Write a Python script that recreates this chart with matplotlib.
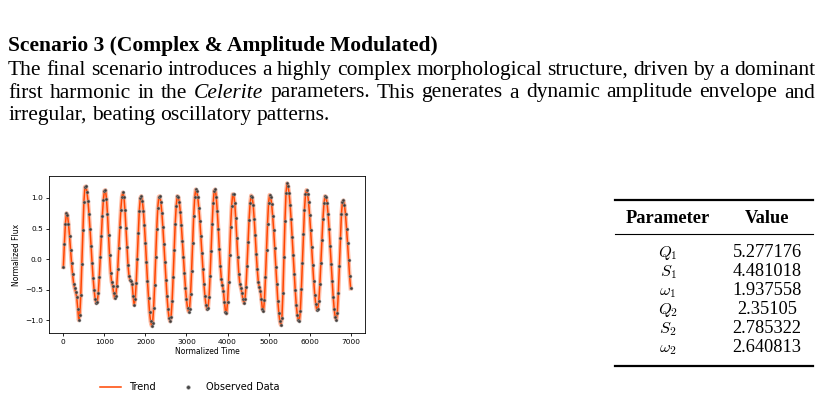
import matplotlib
matplotlib.use("Agg")
import matplotlib.pyplot as plt
import numpy as np

# flux, one value every 25 time units (0 .. 7000)
time_step = 25
flux = [
    -0.13, 0.25, 0.58, 0.75, 0.72, 0.58, 0.38, 0.15,
    -0.07, -0.25, -0.40, -0.48, -0.54, -0.62, -0.82, -1.00,
    -0.92, -0.58, -0.08, 0.47, 0.93, 1.18, 1.19, 1.10,
    0.95, 0.74, 0.49, 0.21, -0.06, -0.31, -0.51, -0.65,
    -0.72, -0.71, -0.56, -0.30, 0.04, 0.38, 0.71, 0.97,
    1.12, 1.13, 0.99, 0.74, 0.40, 0.06, -0.22, -0.37,
    -0.44, -0.55, -0.64, -0.60, -0.44, -0.16, 0.18, 0.52,
    0.81, 1.02, 1.09, 1.02, 0.81, 0.51, 0.19, -0.10,
    -0.28, -0.34, -0.36, -0.40, -0.60, -0.75, -0.66, -0.39,
    0.00, 0.43, 0.79, 1.00, 1.03, 0.95, 0.79, 0.55,
    0.27, -0.05, -0.36, -0.63, -0.87, -1.02, -1.09, -1.04,
    -0.80, -0.42, 0.04, 0.49, 0.84, 1.02, 1.03, 0.93,
    0.76, 0.52, 0.24, -0.05, -0.35, -0.61, -0.82, -0.96,
    -1.02, -0.94, -0.69, -0.30, 0.15, 0.57, 0.87, 1.03,
    1.02, 0.93, 0.77, 0.55, 0.30, 0.04, -0.23, -0.47,
    -0.66, -0.80, -0.86, -0.81, -0.57, -0.19, 0.27, 0.70,
    1.01, 1.14, 1.11, 1.01, 0.84, 0.63, 0.37, 0.10,
    -0.17, -0.41, -0.61, -0.75, -0.82, -0.80, -0.62, -0.28,
    0.14, 0.57, 0.91, 1.12, 1.14, 1.02, 0.79, 0.50,
    0.17, -0.11, -0.33, -0.42, -0.52, -0.70, -0.86, -0.89,
    -0.71, -0.38, 0.07, 0.52, 0.87, 1.06, 1.06, 0.92,
    0.67, 0.35, 0.03, -0.24, -0.40, -0.47, -0.55, -0.66,
    -0.72, -0.66, -0.45, -0.11, 0.28, 0.64, 0.91, 1.04,
    1.02, 0.89, 0.66, 0.39, 0.09, -0.17, -0.37, -0.46,
    -0.52, -0.66, -0.82, -0.85, -0.67, -0.30, 0.15, 0.58,
    0.92, 1.05, 1.02, 0.90, 0.71, 0.47, 0.18, -0.13,
    -0.41, -0.68, -0.88, -1.02, -1.08, -0.96, -0.56, 0.03,
    0.63, 1.08, 1.24, 1.20, 1.08, 0.89, 0.65, 0.36,
    0.06, -0.24, -0.51, -0.75, -0.91, -1.00, -1.01, -0.85,
    -0.49, -0.06, 0.41, 0.81, 1.06, 1.13, 1.07, 0.93,
    0.72, 0.47, 0.19, -0.10, -0.36, -0.58, -0.74, -0.83,
    -0.82, -0.68, -0.41, -0.06, 0.32, 0.66, 0.91, 1.03,
    1.02, 0.92, 0.74, 0.50, 0.22, -0.08, -0.36, -0.62,
    -0.82, -0.95, -0.99, -0.88, -0.56, -0.12, 0.34, 0.73,
    0.94, 0.96, 0.88, 0.73, 0.50, 0.26, -0.01, -0.28,
    -0.48,
]
time = np.arange(len(flux)) * time_step

param_names = [r"$Q_1$", r"$S_1$", r"$\omega_1$", r"$Q_2$", r"$S_2$", r"$\omega_2$"]
param_values = ["5.277176", "4.481018", "1.937558", "2.35105", "2.785322", "2.640813"]

title = "Scenario 3 (Complex & Amplitude Modulated)"
body_lines = [
    [("The final scenario introduces a highly complex morphological structure, "
      "driven by a dominant", "normal")],
    [("first harmonic in the", "normal"), ("Celerite", "italic"),
     ("parameters. This generates a dynamic amplitude envelope and", "normal")],
    [("irregular, beating oscillatory patterns.", "normal")],
]

W, H = 822, 398
fig = plt.figure(figsize=(W / 100, H / 100), dpi=100)
renderer = fig.canvas.get_renderer()
serif = "Liberation Serif"
para_size = 15.5
table_size = 13.2
plt.rcParams["mathtext.fontset"] = "cm"


def fx(px):
    return px / W


def fy(py):
    return 1 - py / H


def put_line(chunks, x0, x1, baseline, justify):
    words = []
    for chunk, style in chunks:
        for w in chunk.split(" "):
            words.append((w, style))
    arts = []
    widths = []
    for w, style in words:
        t = fig.text(0, fy(baseline), w, fontsize=para_size, family=serif,
                     style=style, va="baseline", ha="left")
        arts.append(t)
        widths.append(t.get_window_extent(renderer).width)
    a = fig.text(0, 0, "a b", fontsize=para_size, family=serif)
    b = fig.text(0, 0, "ab", fontsize=para_size, family=serif)
    sw = a.get_window_extent(renderer).width - b.get_window_extent(renderer).width
    a.remove()
    b.remove()
    gap = (x1 - x0 - sum(widths)) / (len(words) - 1) if justify else sw
    x = x0
    for t, w in zip(arts, widths):
        t.set_x(fx(x))
        x += w + gap


# paragraph above the chart
fig.text(fx(8), fy(51), title, fontsize=para_size, family=serif,
         weight="bold", va="baseline")
put_line(body_lines[0], 8, 815, 75, True)
put_line(body_lines[1], 8, 815, 97.5, True)
put_line(body_lines[2], 8, 815, 120, False)

# chart
ax = fig.add_axes([fx(49), fy(333), fx(365) - fx(49), fy(176) - fy(333)])
ax.plot(time, flux, color="#FF4500", lw=3, alpha=0.35, zorder=2)
ax.plot(time, flux, color="#FF4500", lw=1.1, label="Trend", zorder=3)
ax.plot(time, flux, "o", ms=2.2, mfc="#333333", mec="#999999", mew=0.4,
        alpha=0.9, label="Observed Data", zorder=4, ls="none")
ax.set_xlim(-350, 7350)
ax.set_ylim(-1.21, 1.36)
ax.set_xticks(np.arange(0, 7001, 1000))
ax.set_yticks([-1.0, -0.5, 0.0, 0.5, 1.0])
ax.tick_params(labelsize=5.3, length=2.5, width=0.6, pad=2)
for s in ax.spines.values():
    s.set_linewidth(0.6)
ax.set_xlabel("Normalized Time", fontsize=5.5, labelpad=1.5)
ax.set_ylabel("Normalized Flux", fontsize=5.5, labelpad=3)
fig.legend(*ax.get_legend_handles_labels(), loc="center",
           bbox_to_anchor=(fx(190), fy(387)), ncol=2, frameon=False,
           fontsize=7, handlelength=2.2, columnspacing=2.2, markerscale=1.2)

# parameter table
tx0, tx1 = 615, 813
row_gap = 19
for y, lw in [(200, 1.6), (234, 0.8), (366, 1.6)]:
    fig.add_artist(plt.Line2D([fx(tx0), fx(tx1)], [fy(y), fy(y)], color="black",
                              lw=lw, transform=fig.transFigure))
col_param, col_value = 668, 767
fig.text(fx(col_param), fy(218), "Parameter", fontsize=table_size, family=serif,
         weight="bold", ha="center", va="center")
fig.text(fx(col_value), fy(218), "Value", fontsize=table_size, family=serif,
         weight="bold", ha="center", va="center")
for i, (name, val) in enumerate(zip(param_names, param_values)):
    yb = 257 + row_gap * i
    fig.text(fx(col_param), fy(yb), name, fontsize=11.8, ha="center",
             va="baseline")
    fig.text(fx(col_value), fy(yb), val, fontsize=table_size, family=serif,
             ha="center", va="baseline")

fig.savefig("out.png", dpi=100)
